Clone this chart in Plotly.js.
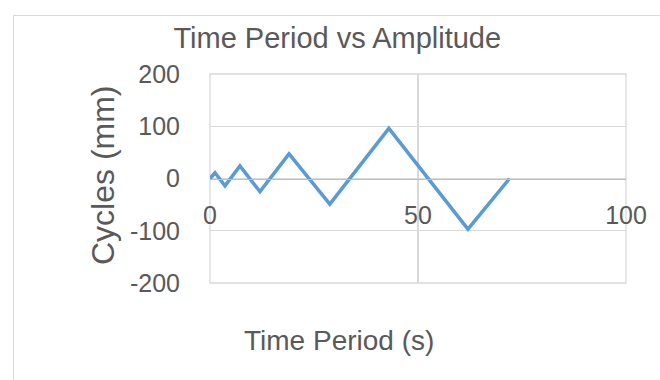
<!DOCTYPE html>
<html>
<head>
<meta charset="utf-8">
<script src="https://cdn.plot.ly/plotly-3.0.1.min.js"></script>
<style>
  html, body { margin: 0; padding: 0; background: #ffffff; overflow: hidden; }
  #frame { position: absolute; left: 13px; top: 15px; width: 700px; height: 420px; border: 1px solid #d9d9d9; box-sizing: border-box; }
  #chart { position: absolute; left: 0; top: 0; width: 660px; height: 380px; }
</style>
</head>
<body>
<div id="frame"></div>
<div id="chart"></div>
<script>
// Data
const timePeriod = [0, 1.2, 3.6, 7.2, 12, 19, 28.8, 43, 62, 72];
const cycles = [0, 11, -14, 24, -25, 47, -49, 96, -97, 0];
const xTickValues = [0, 50, 100];
const yTickValues = [-200, -100, 0, 100, 200];

const textColor = '#595959';
const fontFamily = '"Liberation Sans", Arial, sans-serif';

const trace = {
  x: timePeriod,
  y: cycles,
  type: 'scatter',
  mode: 'lines',
  line: { color: '#5B9BD5', width: 3.5 },
  hoverinfo: 'skip'
};

const layout = {
  width: 660,
  height: 380,
  margin: { l: 210, r: 34, t: 74, b: 97 },
  paper_bgcolor: 'rgba(0,0,0,0)',
  plot_bgcolor: 'rgba(0,0,0,0)',
  showlegend: false,
  font: { family: fontFamily, color: textColor },
  title: {
    text: 'Time Period vs Amplitude',
    font: { family: fontFamily, size: 29, color: textColor },
    xref: 'container', x: 0.511, xanchor: 'center',
    yref: 'container', y: 0.9, yanchor: 'middle'
  },
  xaxis: {
    range: [0, 100],
    tickvals: xTickValues,
    ticktext: xTickValues.map(String),
    showgrid: true,
    gridcolor: '#d9d9d9',
    gridwidth: 1.3,
    zeroline: false,
    anchor: 'free',
    position: 0.5,
    showline: true,
    linecolor: '#bfbfbf',
    linewidth: 1.3,
    ticks: '',
    ticklabelstandoff: 14,
    tickfont: { family: fontFamily, size: 25, color: textColor },
    fixedrange: true
  },
  yaxis: {
    range: [-200, 200],
    tickvals: yTickValues,
    ticktext: yTickValues.map(String),
    showgrid: true,
    gridcolor: '#d9d9d9',
    gridwidth: 1.3,
    zeroline: false,
    showline: false,
    ticks: '',
    ticklabelstandoff: 29,
    tickfont: { family: fontFamily, size: 25, color: textColor },
    fixedrange: true
  },
  shapes: [
    {
      type: 'rect', xref: 'paper', yref: 'paper',
      x0: 0, x1: 1, y0: 0, y1: 1,
      line: { color: '#d9d9d9', width: 1.3 },
      fillcolor: 'rgba(0,0,0,0)',
      layer: 'below'
    }
  ],
  annotations: [
    {
      text: 'Time Period (s)',
      xref: 'paper', yref: 'paper',
      x: (339 - 210) / 416, y: (283 - 340) / 209,
      xanchor: 'center', yanchor: 'middle',
      showarrow: false,
      font: { family: fontFamily, size: 28, color: textColor }
    },
    {
      text: 'Cycles (mm)',
      xref: 'paper', yref: 'paper',
      x: (103 - 210) / 416, y: (283 - 175) / 209,
      xanchor: 'center', yanchor: 'middle',
      textangle: -90,
      showarrow: false,
      font: { family: fontFamily, size: 32, color: textColor }
    }
  ]
};

Plotly.newPlot('chart', [trace], layout, { staticPlot: true, displayModeBar: false });
</script>
</body>
</html>
